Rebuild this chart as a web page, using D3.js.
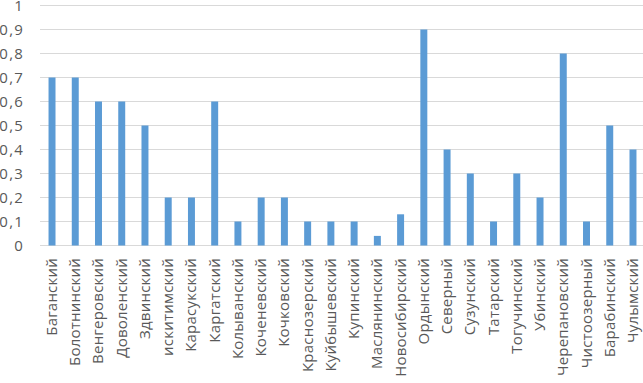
<!DOCTYPE html>
<html><head><meta charset="utf-8">
<script src="https://cdn.jsdelivr.net/npm/d3@7"></script>
<style>body{margin:0;background:#fff;} svg{display:block;}</style>
</head><body>
<svg id="c" width="643" height="383"></svg>
<script>
const categories = ["Баганский","Болотнинский","Венгеровский","Доволенский","Здвинский","искитимский","Карасукский","Каргатский","Колыванский","Коченевский","Кочковский","Краснозерский","Куйбышевский","Купинский","Маслянинский","Новосибирский","Ордынский","Северный","Сузунский","Татарский","Тогучинский","Убинский","Черепановский","Чистоозерный","Барабинский","Чулымский"];
const values = [0.7,0.7,0.6,0.6,0.5,0.2,0.2,0.6,0.1,0.2,0.2,0.1,0.1,0.1,0.04,0.13,0.9,0.4,0.3,0.1,0.3,0.2,0.8,0.1,0.5,0.4];
const yTicks = [0,0.1,0.2,0.3,0.4,0.5,0.6,0.7,0.8,0.9,1];

const svg = d3.select("#c");
const font = "'Open Sans', 'Noto Sans', sans-serif";
const x = d3.scaleBand().domain(categories).range([40.4, 644.6]).paddingInner(0.7).paddingOuter(0.35);
const y = d3.scaleLinear().domain([0,1]).range([245.5, 5.5]);

const xFont = 15;
const probe = svg.append("text").attr("font-family", font).attr("font-size", xFont).text("Маслянинский");
const xSpacing = Math.max(0, (111 - probe.node().getComputedTextLength()) / 12);
probe.remove();

// gridlines
svg.append("g").selectAll("line").data(yTicks).join("line")
  .attr("x1", 40).attr("x2", 643)
  .attr("y1", d => y(d)).attr("y2", d => y(d))
  .attr("stroke", "#d9d9d9").attr("stroke-width", 1);

// y labels
svg.append("g").selectAll("text").data(yTicks).join("text")
  .attr("x", 24).attr("y", d => y(d) + 0.5).attr("dy", "0.36em")
  .attr("text-anchor", "end")
  .attr("font-family", font).attr("font-size", 15).attr("letter-spacing", 1.2).attr("fill", "#595959")
  .text(d => d3.format(".1~f")(d).replace(".", ","));

// bars
svg.append("g").selectAll("rect").data(values).join("rect")
  .attr("x", (d,i) => x(categories[i]))
  .attr("width", x.bandwidth())
  .attr("y", d => y(d))
  .attr("height", d => y(0) - y(d))
  .attr("fill", "#5b9bd5");

// x labels
svg.append("g").selectAll("text").data(categories).join("text")
  .attr("transform", d => `translate(${x(d) + x.bandwidth()/2 + 5},258) rotate(-90)`)
  .attr("text-anchor", "end")
  .attr("font-family", font).attr("font-size", xFont).attr("letter-spacing", xSpacing).attr("fill", "#595959")
  .text(d => d);
</script>
</body></html>
